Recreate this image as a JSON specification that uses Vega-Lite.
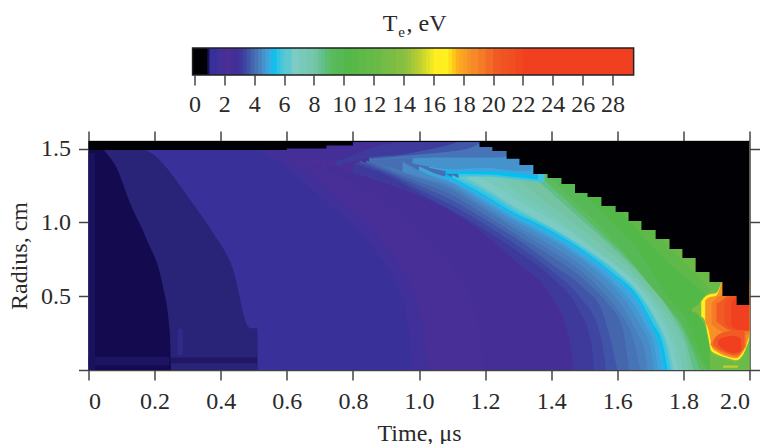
{"$schema":"https://vega.github.io/schema/vega-lite/v6.json","background":"white","autosize":{"type":"pad"},"padding":{"left":7.5,"top":11,"right":0,"bottom":0},"spacing":14,
"config":{"font":"Liberation Serif","view":{"stroke":null},"axis":{"labelFont":"Liberation Serif","titleFont":"Liberation Serif","labelFontSize":24,"titleFontSize":24,"labelColor":"#2a2a2a","titleColor":"#2a2a2a","titleFontWeight":"normal","tickColor":"#444444","domainColor":"#444444","tickWidth":1.5,"domainWidth":1.5,"tickSize":10,"grid":false}},
"datasets":{
"bar":[{"a":-0.13,"b":0.8},{"a":0.75,"b":0.9},{"a":0.85,"b":1},{"a":0.95,"b":1.1},{"a":1.05,"b":1.6},{"a":1.5,"b":2.1},{"a":2,"b":2.6},{"a":2.5,"b":3.1},{"a":3,"b":3.35},{"a":3.25,"b":3.6},{"a":3.5,"b":3.85},{"a":3.75,"b":4.1},{"a":4,"b":4.35},{"a":4.25,"b":4.6},{"a":4.5,"b":4.85},{"a":4.75,"b":5.1},{"a":5,"b":5.35},{"a":5.25,"b":5.6},{"a":5.5,"b":5.85},{"a":5.75,"b":6.1},{"a":6,"b":6.6},{"a":6.5,"b":7.1},{"a":7,"b":7.6},{"a":7.5,"b":8.1},{"a":8,"b":8.35},{"a":8.25,"b":8.6},{"a":8.5,"b":8.85},{"a":8.75,"b":9.1},{"a":9,"b":9.35},{"a":9.25,"b":9.6},{"a":9.5,"b":10.1},{"a":10,"b":10.6},{"a":10.5,"b":11.1},{"a":11,"b":11.6},{"a":11.5,"b":12.1},{"a":12,"b":12.6},{"a":12.5,"b":13.1},{"a":13,"b":13.6},{"a":13.5,"b":14.1},{"a":14,"b":14.35},{"a":14.25,"b":14.6},{"a":14.5,"b":14.85},{"a":14.75,"b":15.1},{"a":15,"b":15.35},{"a":15.25,"b":15.6},{"a":15.5,"b":15.85},{"a":15.75,"b":16.1},{"a":16,"b":16.35},{"a":16.25,"b":16.6},{"a":16.5,"b":16.85},{"a":16.75,"b":17.1},{"a":17,"b":17.35},{"a":17.25,"b":17.6},{"a":17.5,"b":17.85},{"a":17.75,"b":18.1},{"a":18,"b":18.35},{"a":18.25,"b":18.6},{"a":18.5,"b":19.1},{"a":19,"b":19.6},{"a":19.5,"b":20.1},{"a":20,"b":20.6},{"a":20.5,"b":21.1},{"a":21,"b":21.6},{"a":21.5,"b":22.1},{"a":22,"b":29.41}],
"label":[{"x":12.6,"y":0.746,"s":"T","st":"italic","fs":24},{"x":13.65,"y":0.644,"s":"e","st":"italic","fs":15},{"x":14.2,"y":0.746,"s":", eV","st":"normal","fs":24}],
"edge":[{"t":0,"r":1.49},{"t":0.3,"r":1.49},{"t":0.6,"r":1.5},{"t":0.72,"r":1.52},{"t":0.8,"r":1.545},{"t":1.183,"r":1.511},{"t":1.222,"r":1.484},{"t":1.265,"r":1.43},{"t":1.304,"r":1.389},{"t":1.346,"r":1.328},{"t":1.389,"r":1.301},{"t":1.431,"r":1.26},{"t":1.472,"r":1.199},{"t":1.51,"r":1.172},{"t":1.552,"r":1.111},{"t":1.595,"r":1.07},{"t":1.634,"r":1.009},{"t":1.673,"r":0.949},{"t":1.716,"r":0.888},{"t":1.758,"r":0.82},{"t":1.797,"r":0.759},{"t":1.837,"r":0.664},{"t":1.879,"r":0.596},{"t":1.918,"r":0.501},{"t":1.961,"r":0.44},{"t":2,"r":0.44}],
"bands":[
{"v":12,"t":0,"l":0,"h":1.6},{"v":12,"t":2,"l":0,"h":1.6},
{"v":11,"t":0,"l":0,"h":1.6},{"v":11,"t":1.45,"l":0,"h":1.6},{"v":11,"t":1.55,"l":0,"h":1.35},{"v":11,"t":1.65,"l":0,"h":1.1},{"v":11,"t":1.75,"l":0,"h":0.85},{"v":11,"t":1.86,"l":0,"h":0.6},{"v":11,"t":1.92,"l":0,"h":0.45},{"v":11,"t":2,"l":0,"h":0.4},
{"v":10,"t":0,"l":0,"h":1.6},{"v":10,"t":1.4,"l":0,"h":1.6},{"v":10,"t":1.5,"l":0,"h":1.35},{"v":10,"t":1.6,"l":0,"h":1.1},{"v":10,"t":1.7,"l":0,"h":0.85},{"v":10,"t":1.83,"l":0,"h":0.58},{"v":10,"t":1.9,"l":0,"h":0.45},{"v":10,"t":2,"l":0,"h":0.3},
{"v":12.1,"t":1.88,"l":0,"h":0.2},{"v":12.1,"t":2,"l":0,"h":0.2},
{"v":3.9,"t":0.85,"l":0,"h":1.6},{"v":3.9,"t":1.2,"l":0,"h":1.6},
{"v":2.01,"t":0,"l":0,"h":1.6},{"v":2.01,"t":0.85,"l":0,"h":1.6},
{"v":9.5,"t":1.25,"l":0,"h":1.6},{"v":9.5,"t":1.35,"l":0,"h":1.6},{"v":9.5,"t":1.45,"l":0,"h":1.3},{"v":9.5,"t":1.55,"l":0,"h":1.08},{"v":9.5,"t":1.65,"l":0,"h":0.85},{"v":9.5,"t":1.76,"l":0,"h":0.474},{"v":9.5,"t":1.81,"l":0,"h":0.34},{"v":9.5,"t":1.86,"l":0,"h":0.07},{"v":9.5,"t":1.88,"l":0,"h":0},
{"v":9,"t":1.2,"l":0,"h":1.6},{"v":9,"t":1.3,"l":0,"h":1.6},{"v":9,"t":1.4,"l":0,"h":1.3},{"v":9,"t":1.5,"l":0,"h":1.08},{"v":9,"t":1.6,"l":0,"h":0.85},{"v":9,"t":1.73,"l":0,"h":0.474},{"v":9,"t":1.79,"l":0,"h":0.34},{"v":9,"t":1.85,"l":0,"h":0.07},{"v":9,"t":1.87,"l":0,"h":0},
{"v":8.5,"t":1.15,"l":0,"h":1.6},{"v":8.5,"t":1.25,"l":0,"h":1.6},{"v":8.5,"t":1.35,"l":0,"h":1.35},{"v":8.5,"t":1.45,"l":0,"h":1.14},{"v":8.5,"t":1.55,"l":0,"h":0.93},{"v":8.5,"t":1.65,"l":0,"h":0.71},{"v":8.5,"t":1.75,"l":0,"h":0.42},{"v":8.5,"t":1.8,"l":0,"h":0.28},{"v":8.5,"t":1.83,"l":0,"h":0.12},{"v":8.5,"t":1.85,"l":0,"h":0},
{"v":8,"t":1.15,"l":0,"h":1.6},{"v":8,"t":1.3,"l":0,"h":1.4},{"v":8,"t":1.4,"l":0,"h":1.2},{"v":8,"t":1.5,"l":0,"h":1},{"v":8,"t":1.6,"l":0,"h":0.8},{"v":8,"t":1.7,"l":0,"h":0.57},{"v":8,"t":1.77,"l":0,"h":0.36},{"v":8,"t":1.81,"l":0,"h":0.17},{"v":8,"t":1.83,"l":0,"h":0},
{"v":7.5,"t":1.13,"l":0,"h":1.6},{"v":7.5,"t":1.25,"l":0,"h":1.4},{"v":7.5,"t":1.35,"l":0,"h":1.2},{"v":7.5,"t":1.45,"l":0,"h":1.03},{"v":7.5,"t":1.55,"l":0,"h":0.85},{"v":7.5,"t":1.65,"l":0,"h":0.65},{"v":7.5,"t":1.72,"l":0,"h":0.46},{"v":7.5,"t":1.78,"l":0,"h":0.27},{"v":7.5,"t":1.81,"l":0,"h":0.1},{"v":7.5,"t":1.815,"l":0,"h":0},
{"v":7,"t":1.13,"l":0,"h":1.5},{"v":7,"t":1.2,"l":0,"h":1.4},{"v":7,"t":1.3,"l":0,"h":1.2},{"v":7,"t":1.4,"l":0,"h":1.05},{"v":7,"t":1.5,"l":0,"h":0.88},{"v":7,"t":1.6,"l":0,"h":0.71},{"v":7,"t":1.68,"l":0,"h":0.55},{"v":7,"t":1.74,"l":0,"h":0.36},{"v":7,"t":1.78,"l":0,"h":0.17},{"v":7,"t":1.8,"l":0,"h":0},
{"v":6.5,"t":1.15,"l":0,"h":1.35},{"v":6.5,"t":1.25,"l":0,"h":1.22},{"v":6.5,"t":1.35,"l":0,"h":1.08},{"v":6.5,"t":1.45,"l":0,"h":0.95},{"v":6.5,"t":1.55,"l":0,"h":0.78},{"v":6.5,"t":1.65,"l":0,"h":0.6},{"v":6.5,"t":1.71,"l":0,"h":0.43},{"v":6.5,"t":1.75,"l":0,"h":0.27},{"v":6.5,"t":1.775,"l":0,"h":0.1},{"v":6.5,"t":1.785,"l":0,"h":0},
{"v":6,"t":1.12,"l":0,"h":1.33},{"v":6,"t":1.2,"l":0,"h":1.23},{"v":6,"t":1.3,"l":0,"h":1.09},{"v":6,"t":1.4,"l":0,"h":0.965},{"v":6,"t":1.5,"l":0,"h":0.83},{"v":6,"t":1.6,"l":0,"h":0.665},{"v":6,"t":1.67,"l":0,"h":0.51},{"v":6,"t":1.72,"l":0,"h":0.33},{"v":6,"t":1.755,"l":0,"h":0.15},{"v":6,"t":1.77,"l":0,"h":0},
{"v":5.6,"t":1.1,"l":0,"h":1.32},{"v":5.6,"t":1.2,"l":0,"h":1.21},{"v":5.6,"t":1.3,"l":0,"h":1.07},{"v":5.6,"t":1.4,"l":0,"h":0.96},{"v":5.6,"t":1.5,"l":0,"h":0.82},{"v":5.6,"t":1.6,"l":0,"h":0.655},{"v":5.6,"t":1.665,"l":0,"h":0.51},{"v":5.6,"t":1.715,"l":0,"h":0.33},{"v":5.6,"t":1.748,"l":0,"h":0.15},{"v":5.6,"t":1.762,"l":0,"h":0},
{"v":5.2,"t":1.08,"l":0,"h":1.33},{"v":5.2,"t":1.18,"l":0,"h":1.21},{"v":5.2,"t":1.28,"l":0,"h":1.075},{"v":5.2,"t":1.39,"l":0,"h":0.955},{"v":5.2,"t":1.49,"l":0,"h":0.82},{"v":5.2,"t":1.59,"l":0,"h":0.65},{"v":5.2,"t":1.66,"l":0,"h":0.505},{"v":5.2,"t":1.705,"l":0,"h":0.325},{"v":5.2,"t":1.74,"l":0,"h":0.15},{"v":5.2,"t":1.752,"l":0,"h":0},
{"v":5,"t":1.05,"l":0,"h":1.33},{"v":5,"t":1.08,"l":0,"h":1.31},{"v":5,"t":1.18,"l":0,"h":1.2},{"v":5,"t":1.28,"l":0,"h":1.065},{"v":5,"t":1.39,"l":0,"h":0.945},{"v":5,"t":1.49,"l":0,"h":0.81},{"v":5,"t":1.59,"l":0,"h":0.64},{"v":5,"t":1.655,"l":0,"h":0.5},{"v":5,"t":1.7,"l":0,"h":0.32},{"v":5,"t":1.732,"l":0,"h":0.15},{"v":5,"t":1.745,"l":0,"h":0},
{"v":4.8,"t":1,"l":0,"h":1.38},{"v":4.8,"t":1.05,"l":0,"h":1.33},{"v":4.8,"t":1.1,"l":0,"h":1.28},{"v":4.8,"t":1.18,"l":0,"h":1.185},{"v":4.8,"t":1.28,"l":0,"h":1.05},{"v":4.8,"t":1.39,"l":0,"h":0.925},{"v":4.8,"t":1.49,"l":0,"h":0.79},{"v":4.8,"t":1.59,"l":0,"h":0.625},{"v":4.8,"t":1.65,"l":0,"h":0.49},{"v":4.8,"t":1.695,"l":0,"h":0.32},{"v":4.8,"t":1.725,"l":0,"h":0.15},{"v":4.8,"t":1.735,"l":0,"h":0},
{"v":4.6,"t":1,"l":0,"h":1.35},{"v":4.6,"t":1.05,"l":0,"h":1.31},{"v":4.6,"t":1.1,"l":0,"h":1.27},{"v":4.6,"t":1.18,"l":0,"h":1.17},{"v":4.6,"t":1.28,"l":0,"h":1.035},{"v":4.6,"t":1.39,"l":0,"h":0.91},{"v":4.6,"t":1.49,"l":0,"h":0.77},{"v":4.6,"t":1.585,"l":0,"h":0.6},{"v":4.6,"t":1.64,"l":0,"h":0.47},{"v":4.6,"t":1.683,"l":0,"h":0.31},{"v":4.6,"t":1.713,"l":0,"h":0.15},{"v":4.6,"t":1.723,"l":0,"h":0},
{"v":4.4,"t":0.95,"l":0,"h":1.41},{"v":4.4,"t":1.05,"l":0,"h":1.3},{"v":4.4,"t":1.1,"l":0,"h":1.26},{"v":4.4,"t":1.18,"l":0,"h":1.15},{"v":4.4,"t":1.28,"l":0,"h":1.02},{"v":4.4,"t":1.39,"l":0,"h":0.89},{"v":4.4,"t":1.49,"l":0,"h":0.75},{"v":4.4,"t":1.58,"l":0,"h":0.58},{"v":4.4,"t":1.63,"l":0,"h":0.45},{"v":4.4,"t":1.67,"l":0,"h":0.3},{"v":4.4,"t":1.7,"l":0,"h":0.15},{"v":4.4,"t":1.71,"l":0,"h":0},
{"v":4.2,"t":0.9,"l":0,"h":1.38},{"v":4.2,"t":1,"l":0,"h":1.31},{"v":4.2,"t":1.1,"l":0,"h":1.24},{"v":4.2,"t":1.18,"l":0,"h":1.13},{"v":4.2,"t":1.28,"l":0,"h":0.995},{"v":4.2,"t":1.39,"l":0,"h":0.855},{"v":4.2,"t":1.49,"l":0,"h":0.71},{"v":4.2,"t":1.57,"l":0,"h":0.55},{"v":4.2,"t":1.62,"l":0,"h":0.415},{"v":4.2,"t":1.66,"l":0,"h":0.25},{"v":4.2,"t":1.685,"l":0,"h":0.1},{"v":4.2,"t":1.69,"l":0,"h":0},
{"v":4,"t":0.85,"l":0,"h":1.42},{"v":4,"t":0.92,"l":0,"h":1.36},{"v":4,"t":1,"l":0,"h":1.3},{"v":4,"t":1.1,"l":0,"h":1.22},{"v":4,"t":1.18,"l":0,"h":1.11},{"v":4,"t":1.28,"l":0,"h":0.97},{"v":4,"t":1.39,"l":0,"h":0.82},{"v":4,"t":1.49,"l":0,"h":0.67},{"v":4,"t":1.56,"l":0,"h":0.52},{"v":4,"t":1.61,"l":0,"h":0.38},{"v":4,"t":1.65,"l":0,"h":0.2},{"v":4,"t":1.67,"l":0,"h":0},
{"v":3.75,"t":0.84,"l":0,"h":1.42},{"v":3.75,"t":0.92,"l":0,"h":1.345},{"v":3.75,"t":1,"l":0,"h":1.275},{"v":3.75,"t":1.1,"l":0,"h":1.185},{"v":3.75,"t":1.2,"l":0,"h":1.05},{"v":3.75,"t":1.3,"l":0,"h":0.91},{"v":3.75,"t":1.4,"l":0,"h":0.77},{"v":3.75,"t":1.5,"l":0,"h":0.61},{"v":3.75,"t":1.57,"l":0,"h":0.45},{"v":3.75,"t":1.615,"l":0,"h":0.29},{"v":3.75,"t":1.63,"l":0,"h":0.1},{"v":3.75,"t":1.635,"l":0,"h":0},
{"v":3.5,"t":0.82,"l":0,"h":1.42},{"v":3.5,"t":0.92,"l":0,"h":1.33},{"v":3.5,"t":1,"l":0,"h":1.25},{"v":3.5,"t":1.1,"l":0,"h":1.15},{"v":3.5,"t":1.2,"l":0,"h":1.02},{"v":3.5,"t":1.3,"l":0,"h":0.88},{"v":3.5,"t":1.4,"l":0,"h":0.72},{"v":3.5,"t":1.5,"l":0,"h":0.55},{"v":3.5,"t":1.55,"l":0,"h":0.42},{"v":3.5,"t":1.58,"l":0,"h":0.2},{"v":3.5,"t":1.6,"l":0,"h":0},
{"v":3.25,"t":0.81,"l":0,"h":1.41},{"v":3.25,"t":0.92,"l":0,"h":1.315},{"v":3.25,"t":1,"l":0,"h":1.225},{"v":3.25,"t":1.1,"l":0,"h":1.115},{"v":3.25,"t":1.2,"l":0,"h":0.985},{"v":3.25,"t":1.3,"l":0,"h":0.84},{"v":3.25,"t":1.4,"l":0,"h":0.675},{"v":3.25,"t":1.49,"l":0,"h":0.485},{"v":3.25,"t":1.54,"l":0,"h":0.3},{"v":3.25,"t":1.56,"l":0,"h":0.1},{"v":3.25,"t":1.565,"l":0,"h":0},
{"v":3,"t":0.8,"l":0,"h":1.4},{"v":3,"t":0.92,"l":0,"h":1.3},{"v":3,"t":1,"l":0,"h":1.2},{"v":3,"t":1.1,"l":0,"h":1.08},{"v":3,"t":1.2,"l":0,"h":0.95},{"v":3,"t":1.3,"l":0,"h":0.8},{"v":3,"t":1.4,"l":0,"h":0.63},{"v":3,"t":1.48,"l":0,"h":0.42},{"v":3,"t":1.52,"l":0,"h":0.2},{"v":3,"t":1.53,"l":0,"h":0},
{"v":2.4,"t":0.72,"l":0,"h":1.4},{"v":2.4,"t":0.85,"l":0,"h":1.3},{"v":2.4,"t":1,"l":0,"h":1.18},{"v":2.4,"t":1.15,"l":0,"h":1},{"v":2.4,"t":1.3,"l":0,"h":0.72},{"v":2.4,"t":1.4,"l":0,"h":0.5},{"v":2.4,"t":1.45,"l":0,"h":0.25},{"v":2.4,"t":1.47,"l":0,"h":0},
{"v":1.8,"t":0.55,"l":0,"h":1.48},{"v":1.8,"t":0.7,"l":0,"h":1.38},{"v":1.8,"t":0.85,"l":0,"h":1.2},{"v":1.8,"t":1,"l":0,"h":0.95},{"v":1.8,"t":1.1,"l":0,"h":0.7},{"v":1.8,"t":1.17,"l":0,"h":0.4},{"v":1.8,"t":1.2,"l":0,"h":0},
{"v":1.4,"t":0,"l":0,"h":1.6},{"v":1.4,"t":0.5,"l":0,"h":1.6},{"v":1.4,"t":0.55,"l":0,"h":1.49},{"v":1.4,"t":0.65,"l":0,"h":1.36},{"v":1.4,"t":0.76,"l":0,"h":1.15},{"v":1.4,"t":0.91,"l":0,"h":0.8},{"v":1.4,"t":1,"l":0,"h":0.4},{"v":1.4,"t":1.03,"l":0,"h":0},
{"v":1.1,"t":0,"l":0,"h":1.6},{"v":1.1,"t":0.45,"l":0,"h":1.6},{"v":1.1,"t":0.52,"l":0,"h":1.49},{"v":1.1,"t":0.62,"l":0,"h":1.33},{"v":1.1,"t":0.72,"l":0,"h":1.13},{"v":1.1,"t":0.87,"l":0,"h":0.8},{"v":1.1,"t":0.96,"l":0,"h":0.4},{"v":1.1,"t":0.98,"l":0,"h":0},
{"v":5.61,"t":1.12,"l":1.31,"h":1.6},{"v":5.61,"t":1.2,"l":1.31,"h":1.6},{"v":5.61,"t":1.3,"l":1.29,"h":1.6},{"v":5.61,"t":1.38,"l":1.27,"h":1.6},
{"v":5.21,"t":1.08,"l":1.33,"h":1.6},{"v":5.21,"t":1.2,"l":1.325,"h":1.6},{"v":5.21,"t":1.3,"l":1.305,"h":1.6},{"v":5.21,"t":1.36,"l":1.29,"h":1.6},
{"v":4.81,"t":1.03,"l":1.37,"h":1.6},{"v":4.81,"t":1.1,"l":1.345,"h":1.6},{"v":4.81,"t":1.2,"l":1.345,"h":1.6},{"v":4.81,"t":1.3,"l":1.33,"h":1.6},{"v":4.81,"t":1.36,"l":1.31,"h":1.6},
{"v":4.5,"t":0.98,"l":1.4,"h":1.6},{"v":4.5,"t":1.1,"l":1.36,"h":1.6},{"v":4.5,"t":1.2,"l":1.37,"h":1.6},{"v":4.5,"t":1.3,"l":1.35,"h":1.6},{"v":4.5,"t":1.34,"l":1.35,"h":1.6},
{"v":4.01,"t":0.85,"l":1.42,"h":1.6},{"v":4.01,"t":0.95,"l":1.43,"h":1.6},{"v":4.01,"t":1.05,"l":1.44,"h":1.6},{"v":4.01,"t":1.15,"l":1.44,"h":1.6},{"v":4.01,"t":1.25,"l":1.44,"h":1.6},{"v":4.01,"t":1.3,"l":1.5,"h":1.6},
{"v":3.51,"t":0.85,"l":1.43,"h":1.6},{"v":3.51,"t":0.95,"l":1.45,"h":1.6},{"v":3.51,"t":1.05,"l":1.47,"h":1.6},{"v":3.51,"t":1.15,"l":1.5,"h":1.6},{"v":3.51,"t":1.2,"l":1.56,"h":1.6},
{"v":3.01,"t":0.75,"l":1.38,"h":1.6},{"v":3.01,"t":0.8,"l":1.41,"h":1.6},{"v":3.01,"t":0.85,"l":1.44,"h":1.6},{"v":3.01,"t":0.95,"l":1.46,"h":1.6},{"v":3.01,"t":1,"l":1.48,"h":1.6},{"v":3.01,"t":1.1,"l":1.53,"h":1.6},{"v":3.01,"t":1.15,"l":1.57,"h":1.6},
{"v":1.6,"t":0.5,"l":1.5,"h":1.6},{"v":1.6,"t":0.6,"l":1.44,"h":1.6},{"v":1.6,"t":0.75,"l":1.42,"h":1.6},{"v":1.6,"t":0.85,"l":1.5,"h":1.6},{"v":1.6,"t":1,"l":1.56,"h":1.6},
{"v":0.95,"t":0,"l":0,"h":1.6},{"v":0.95,"t":0.19,"l":0,"h":1.47},{"v":0.95,"t":0.236,"l":0,"h":1.37},{"v":0.95,"t":0.297,"l":0,"h":1.186},{"v":0.95,"t":0.375,"l":0,"h":0.935},{"v":0.95,"t":0.436,"l":0,"h":0.69},{"v":0.95,"t":0.487,"l":0,"h":0.285},{"v":0.95,"t":0.511,"l":0,"h":0.28},{"v":0.95,"t":0.513,"l":0,"h":0},
{"v":0.85,"t":0,"l":0,"h":1.6},{"v":0.85,"t":0.054,"l":0,"h":1.47},{"v":0.85,"t":0.085,"l":0,"h":1.37},{"v":0.85,"t":0.124,"l":0,"h":1.14},{"v":0.85,"t":0.175,"l":0,"h":0.89},{"v":0.85,"t":0.224,"l":0,"h":0.576},{"v":0.85,"t":0.245,"l":0,"h":0.285},{"v":0.85,"t":0.25,"l":0,"h":0},
{"v":0.89,"t":0,"l":0.03,"h":0.09},{"v":0.89,"t":0.245,"l":0.03,"h":0.09},
{"v":0.88,"t":0,"l":0,"h":1.47},{"v":0.88,"t":0.02,"l":0,"h":1.47},
{"v":0.9,"t":0.25,"l":0.045,"h":0.085},{"v":0.9,"t":0.51,"l":0.045,"h":0.085},
{"v":1,"t":0.27,"l":0.1,"h":0.28},{"v":1,"t":0.285,"l":0.1,"h":0.28},
{"v":13,"t":1.825,"l":0.4,"h":0.41},{"v":13,"t":1.829,"l":0.395,"h":0.418},{"v":13,"t":1.845,"l":0.375,"h":0.445},{"v":13,"t":1.855,"l":0.34,"h":0.48},{"v":13,"t":1.865,"l":0.3,"h":0.505},{"v":13,"t":1.875,"l":0.2,"h":0.52},{"v":13,"t":1.885,"l":0.11,"h":0.53},{"v":13,"t":1.9,"l":0.09,"h":0.53},{"v":13,"t":1.92,"l":0.08,"h":0.55},{"v":13,"t":1.94,"l":0.06,"h":0.6},{"v":13,"t":1.96,"l":0.05,"h":0.6},{"v":13,"t":1.975,"l":0.09,"h":0.6},{"v":13,"t":1.985,"l":0.15,"h":0.6},{"v":13,"t":2,"l":0.2,"h":0.6},
{"v":16.5,"t":1.854,"l":0.362,"h":0.463},{"v":16.5,"t":1.864,"l":0.34,"h":0.493},{"v":16.5,"t":1.874,"l":0.237,"h":0.508},{"v":16.5,"t":1.884,"l":0.131,"h":0.515},{"v":16.5,"t":1.899,"l":0.109,"h":0.52},{"v":16.5,"t":1.92,"l":0.09,"h":0.6},{"v":16.5,"t":1.94,"l":0.077,"h":0.6},{"v":16.5,"t":1.96,"l":0.066,"h":0.6},{"v":16.5,"t":1.975,"l":0.086,"h":0.6},{"v":16.5,"t":1.985,"l":0.124,"h":0.6},{"v":16.5,"t":2,"l":0.21,"h":0.6},
{"v":18.3,"t":1.866,"l":0.32,"h":0.47},{"v":18.3,"t":1.875,"l":0.28,"h":0.49},{"v":18.3,"t":1.888,"l":0.147,"h":0.497},{"v":18.3,"t":1.9,"l":0.125,"h":0.505},{"v":18.3,"t":1.92,"l":0.1,"h":0.6},{"v":18.3,"t":1.94,"l":0.087,"h":0.6},{"v":18.3,"t":1.96,"l":0.08,"h":0.6},{"v":18.3,"t":1.975,"l":0.105,"h":0.6},{"v":18.3,"t":1.988,"l":0.16,"h":0.6},{"v":18.3,"t":2,"l":0.23,"h":0.6},
{"v":19,"t":1.885,"l":0.31,"h":0.45},{"v":19,"t":1.9,"l":0.28,"h":0.49},{"v":19,"t":1.93,"l":0.25,"h":0.52},{"v":19,"t":1.96,"l":0.23,"h":0.6},{"v":19,"t":2,"l":0.24,"h":0.6},
{"v":19.1,"t":1.882,"l":0.17,"h":0.18},{"v":19.1,"t":1.895,"l":0.145,"h":0.215},{"v":19.1,"t":1.93,"l":0.105,"h":0.25},{"v":19.1,"t":1.96,"l":0.09,"h":0.26},{"v":19.1,"t":1.98,"l":0.13,"h":0.26},{"v":19.1,"t":1.99,"l":0.16,"h":0.24},
{"v":20,"t":1.9,"l":0.33,"h":0.45},{"v":20,"t":1.93,"l":0.28,"h":0.5},{"v":20,"t":1.96,"l":0.26,"h":0.6},{"v":20,"t":2,"l":0.26,"h":0.6},
{"v":21,"t":1.925,"l":0.31,"h":0.46},{"v":21,"t":1.95,"l":0.275,"h":0.5},{"v":21,"t":2,"l":0.265,"h":0.5},
{"v":22,"t":1.945,"l":0.3,"h":0.46},{"v":22,"t":1.97,"l":0.27,"h":0.5},{"v":22,"t":2,"l":0.27,"h":0.5},
{"v":20.1,"t":1.89,"l":0.17,"h":0.19},{"v":20.1,"t":1.9,"l":0.15,"h":0.23},{"v":20.1,"t":1.93,"l":0.115,"h":0.26},{"v":20.1,"t":1.96,"l":0.1,"h":0.27},{"v":20.1,"t":1.98,"l":0.14,"h":0.27},{"v":20.1,"t":1.985,"l":0.16,"h":0.26},
{"v":22.1,"t":1.905,"l":0.17,"h":0.2},{"v":22.1,"t":1.92,"l":0.14,"h":0.22},{"v":22.1,"t":1.95,"l":0.115,"h":0.23},{"v":22.1,"t":1.97,"l":0.12,"h":0.22},{"v":22.1,"t":1.975,"l":0.14,"h":0.2},
{"v":15,"t":1.92,"l":0.015,"h":0.03},{"v":15,"t":1.965,"l":0.015,"h":0.03}
]},
"vconcat":[
{"width":661,"height":59,"layer":[
{"data":{"name":"bar"},"mark":{"type":"rect"},"encoding":{
"x":{"field":"a","type":"quantitative","scale":{"domain":[-7.1,37.17],"nice":false,"zero":false},"axis":{"values":[0,2,4,6,8,10,12,14,16,18,20,22,24,26,28],"domain":false,"title":null,"labelPadding":7,"format":"d","tickSize":10}},
"x2":{"field":"b"},
"y":{"datum":0,"scale":{"domain":[0,1]},"axis":null},"y2":{"datum":0.458},
"color":{"field":"a","type":"quantitative","legend":null,"scale":{"domain":[0,0.75,0.85,0.95,1.05,1.3,2,2.8,3.3,3.8,4.3,4.8,5.2,5.6,6.5,8,9,10,12,14,15,16,16.8,17.5,18.5,20,22,29.4],"range":["#000005","#000005","#130a50","#2a2478","#37309a","#3f3099","#4b2e96","#3e3098","#3f48a2","#4768ae","#4a85c0","#3fa5dc","#00c0f0","#40c4de","#7ccbc4","#74c4a4","#5cba60","#52b848","#6aba48","#8cc040","#c0d030","#ffee20","#fff020","#fcb020","#f68a28","#f15a25","#f04020","#ef4123"]}}}},
{"data":{"values":[{"a":-0.13,"b":29.41}]},"mark":{"type":"rect","fillOpacity":0,"stroke":"#222222","strokeWidth":1.5},"encoding":{"x":{"field":"a","type":"quantitative"},"x2":{"field":"b"},"y":{"datum":0},"y2":{"datum":0.458}}},
{"data":{"name":"label"},"mark":{"type":"text","align":"left","baseline":"alphabetic","font":"Liberation Serif","color":"#2a2a2a"},"encoding":{"x":{"field":"x","type":"quantitative"},"y":{"field":"y","type":"quantitative"},"text":{"field":"s"},"fontStyle":{"field":"st","type":"nominal","scale":null},"size":{"field":"fs","type":"quantitative","scale":null}}}
]},
{"width":661,"height":229,"resolve":{"axis":{"x":"independent","y":"independent"}},"layer":[
{"data":{"name":"bands"},"mark":{"type":"area","interpolate":"monotone","clip":true},"encoding":{
"x":{"field":"t","type":"quantitative","scale":{"domain":[0,2],"nice":false,"zero":false},"axis":{"values":[0,0.2,0.4,0.6,0.8,1,1.2,1.4,1.6,1.8,2],"title":"Time, μs","labelExpr":"datum.value==0?'0':format(datum.value,'.1f')","labelPadding":9,"titlePadding":8}},
"y":{"field":"h","type":"quantitative","stack":null,"scale":{"domain":[0,1.551],"nice":false,"zero":false},"axis":{"values":[0,0.5,1,1.5],"title":"Radius, cm","labelExpr":"datum.value==0?'':format(datum.value,'.1f')","labelPadding":8,"titlePadding":9}},
"y2":{"field":"l"},
"detail":{"field":"v","type":"quantitative"},
"color":{"field":"v","type":"quantitative","legend":null,"scale":{"domain":[0,0.75,0.85,0.95,1.05,1.3,2,2.8,3.3,3.8,4.3,4.8,5.2,5.6,6.5,8,9,10,12,14,15,16,16.8,17.5,18.5,20,22,29.4],"range":["#000005","#000005","#130a50","#2a2478","#37309a","#3f3099","#4b2e96","#3e3098","#3f48a2","#4768ae","#4a85c0","#3fa5dc","#00c0f0","#40c4de","#7ccbc4","#74c4a4","#5cba60","#52b848","#6aba48","#8cc040","#c0d030","#ffee20","#fff020","#fcb020","#f68a28","#f15a25","#f04020","#ef4123"]}}}},
{"data":{"name":"edge"},"mark":{"type":"area","interpolate":"step-after","color":"#000005","clip":true},"encoding":{
"x":{"field":"t","type":"quantitative","axis":{"orient":"top","values":[0,0.2,0.4,0.6,0.8,1,1.2,1.4,1.6,1.8,2],"labels":false,"title":null}},
"y":{"field":"r","type":"quantitative","stack":null,"axis":{"orient":"right","values":[0,0.5,1,1.5],"labels":false,"title":null}},
"y2":{"datum":1.6}}}
]}
]}
